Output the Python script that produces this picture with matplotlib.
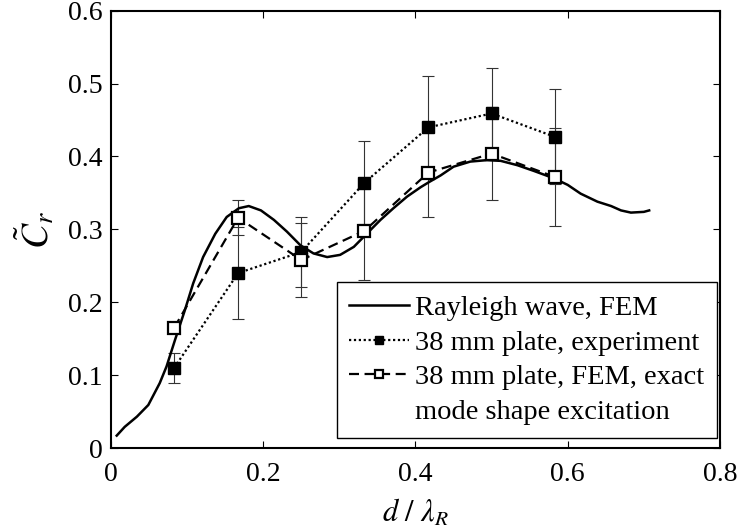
import numpy as np
import matplotlib.pyplot as plt
from matplotlib.lines import Line2D
from matplotlib.ticker import FuncFormatter

plt.rcParams['font.family'] = ['Liberation Serif', 'DejaVu Serif']
plt.rcParams['mathtext.fontset'] = 'stix'

# Rayleigh wave, FEM (solid curve)
ray_x = [0.0075, 0.018, 0.034, 0.049, 0.064, 0.073, 0.084, 0.097, 0.108, 0.121,
         0.137, 0.152, 0.168, 0.181, 0.197, 0.214, 0.231, 0.249, 0.266, 0.284,
         0.301, 0.319, 0.336, 0.354, 0.371, 0.389, 0.407, 0.418, 0.433, 0.450,
         0.472, 0.494, 0.512, 0.534, 0.556, 0.582, 0.600, 0.617, 0.639, 0.657,
         0.670, 0.683, 0.700, 0.707]
ray_y = [0.017, 0.029, 0.043, 0.059, 0.089, 0.112, 0.148, 0.189, 0.226, 0.262,
         0.294, 0.317, 0.329, 0.332, 0.326, 0.313, 0.297, 0.278, 0.267, 0.262,
         0.265, 0.276, 0.294, 0.313, 0.329, 0.345, 0.358, 0.365, 0.374, 0.386,
         0.393, 0.395, 0.394, 0.388, 0.380, 0.370, 0.361, 0.349, 0.338, 0.332,
         0.326, 0.323, 0.324, 0.326]

# measurement positions d / lambda_R
pos = [0.083, 0.167, 0.250, 0.333, 0.417, 0.500, 0.583]

# 38 mm plate, experiment
exp_y = [0.110, 0.240, 0.269, 0.364, 0.440, 0.459, 0.427]
exp_err = [0.021, 0.063, 0.048, 0.057, 0.070, 0.062, 0.065]

# 38 mm plate, FEM, exact mode shape excitation
fem_y = [0.165, 0.316, 0.258, 0.298, 0.378, 0.404, 0.372]
fem_err = [0.0, 0.024, 0.051, 0.068, 0.061, 0.064, 0.067]

fig = plt.figure(figsize=(7.43, 5.31), dpi=100)
ax = fig.add_axes([0.1494, 0.1563, 0.8196, 0.8235])

ax.errorbar(pos, exp_y, yerr=exp_err, fmt='none', ecolor='#333333',
            elinewidth=0.8, capsize=4, capthick=0.8, zorder=1)
ax.errorbar(pos, fem_y, yerr=fem_err, fmt='none', ecolor='#333333',
            elinewidth=0.8, capsize=4, capthick=0.8, zorder=1)

l1, = ax.plot(ray_x, ray_y, '-', color='black', lw=1.8, zorder=2)
l2, = ax.plot(pos, exp_y, color='black', lw=1.6, linestyle=(0, (1, 1.2)),
              marker='s', ms=8.5, mfc='black', mec='black', zorder=3)
l3, = ax.plot(pos, fem_y, color='black', lw=1.6, linestyle=(0, (4.5, 2.5)),
              marker='s', ms=8.5, mfc='white', mec='black', mew=1.6, zorder=4)

ax.set_xlim(0, 0.8)
ax.set_ylim(0, 0.6)
ax.set_xticks([0, 0.2, 0.4, 0.6, 0.8])
ax.set_yticks([0, 0.1, 0.2, 0.3, 0.4, 0.5, 0.6])
fmt = FuncFormatter(lambda v, p: f'{v:g}')
ax.xaxis.set_major_formatter(fmt)
ax.yaxis.set_major_formatter(fmt)
ax.tick_params(axis='both', direction='in', length=5, width=0.8, top=True,
               right=True, labelsize=20)
ax.tick_params(axis='x', pad=10)
ax.tick_params(axis='y', pad=6)
for s in ax.spines.values():
    s.set_linewidth(1.5)

ax.set_xlabel(r'$d\ /\ \lambda_R$', fontsize=22, labelpad=8)
ax.set_ylabel(r'$\tilde{C}_r$', fontsize=27, labelpad=8)

blank = Line2D([], [], linestyle='none')
leg = ax.legend([l1, l2, l3, blank],
                ['Rayleigh wave, FEM', '38 mm plate, experiment',
                 '38 mm plate, FEM, exact', 'mode shape excitation'],
                loc='lower right', bbox_to_anchor=(0.995, 0.023),
                borderaxespad=0, fontsize=20.5, frameon=True, fancybox=False,
                edgecolor='black', framealpha=1, handlelength=2.1,
                handletextpad=0.2, labelspacing=0.31, borderpad=0.45,
                markerscale=0.75)
leg.get_frame().set_linewidth(1.0)

fig.savefig('out.png', dpi=100)
